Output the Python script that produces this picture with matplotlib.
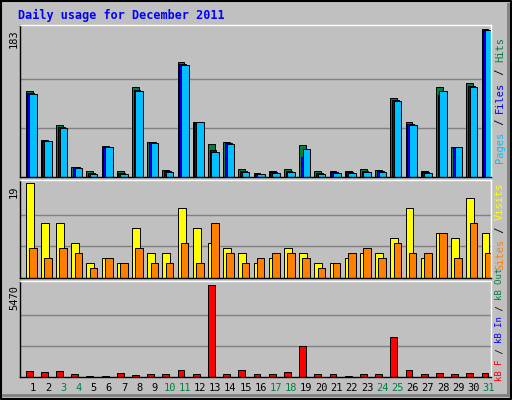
import numpy as np
import matplotlib.pyplot as plt

days = np.arange(1, 32)
hits = [107, 46, 65, 13, 7, 38, 7, 111, 44, 9, 142, 68, 41, 43, 10, 5, 7, 10, 40, 7, 7, 7, 10, 9, 98, 68, 8, 112, 37, 117, 183]
files = [104, 45, 62, 12, 5, 37, 5, 108, 43, 7, 140, 68, 34, 42, 7, 4, 6, 7, 25, 5, 6, 6, 7, 7, 95, 66, 6, 102, 37, 113, 182]
pages = [103, 45, 61, 11, 4, 37, 4, 107, 42, 6, 139, 68, 31, 41, 6, 4, 5, 6, 35, 4, 5, 5, 6, 6, 94, 65, 5, 107, 37, 112, 182]
visits = [19, 11, 11, 7, 3, 4, 3, 10, 5, 5, 14, 10, 7, 6, 5, 3, 4, 6, 5, 3, 3, 4, 5, 5, 8, 14, 4, 9, 8, 16, 9]
sites = [6, 4, 6, 5, 2, 4, 3, 6, 3, 3, 7, 3, 11, 5, 3, 4, 5, 5, 4, 2, 3, 5, 6, 4, 7, 5, 5, 9, 4, 11, 5]
kbytes = [380, 320, 380, 200, 80, 80, 260, 140, 200, 200, 440, 200, 5470, 200, 440, 200, 200, 320, 1817, 200, 200, 80, 200, 200, 2355, 440, 200, 260, 200, 260, 260]
weekend = [3, 4, 10, 11, 17, 18, 24, 25, 31]

W, H = 512, 400
fig = plt.figure(figsize=(W / 100, H / 100), dpi=100, facecolor='#c0c0c0')
plt.rcParams['font.family'] = 'DejaVu Sans Mono'

# outer frame
frame = fig.add_axes([0, 0, 1, 1])
frame.set_xlim(0, W); frame.set_ylim(H, 0); frame.axis('off')
frame.plot([1, W - 1, W - 1, 1, 1], [1, 1, H - 1, H - 1, 1], color='black', lw=1.5)
frame.plot([3, W - 4], [H - 5, H - 5], color='#808080', lw=2)
frame.plot([W - 4, W - 4], [4, H - 5], color='#808080', lw=2)
frame.text(18, 15, 'Daily usage for December 2011', color='#0000ff', fontsize=8.5,
           fontweight='bold', va='center')

def panel(top, bottom):
    ax = fig.add_axes([20 / W, 1 - bottom / H, 471 / W, (bottom - top) / H])
    ax.set_facecolor('#c0c0c0')
    ax.set_xlim(0.5, 31.5)
    ax.set_xticks([]); ax.set_yticks([])
    for s in ax.spines.values():
        s.set_color('black'); s.set_linewidth(1)
    ax.spines['top'].set_color('white'); ax.spines['right'].set_color('white')
    return ax

ax1 = panel(25, 177)
ax1.set_ylim(0, max(hits) * 1.03)
for f in (1 / 3, 2 / 3):
    ax1.axhline(max(hits) * f, color='#808080', lw=1, zorder=0)
ax1.bar(days - 0.125, hits, width=0.45, align='edge', color='#008040', edgecolor='black', lw=0.7)
ax1.bar(days - 0.02, files, width=0.45, align='edge', color='#0000ff', edgecolor='black', lw=0.7)
ax1.bar(days + 0.1, pages, width=0.5, align='edge', color='#00c0ff', edgecolor='black', lw=0.7)

ax2 = panel(180, 278)
ax2.set_ylim(0, max(visits) * 1.03)
for f in (1 / 3, 2 / 3):
    ax2.axhline(max(visits) * f, color='#808080', lw=1, zorder=0)
ax2.bar(days - 0.125, visits, width=0.52, align='edge', color='#ffff00', edgecolor='black', lw=0.7)
ax2.bar(days + 0.09, sites, width=0.5, align='edge', color='#ff8000', edgecolor='black', lw=0.7)

ax3 = panel(281, 377)
ax3.set_ylim(0, max(kbytes) * 1.04)
for f in (1 / 3, 2 / 3):
    ax3.axhline(max(kbytes) * f, color='#808080', lw=1, zorder=0)
ax3.bar(days - 0.125, kbytes, width=0.45, align='edge', color='#ff0000', edgecolor='black', lw=0.7)

# day labels
for d in days:
    x = 20 + (d + 0.35 - 0.5) * 471 / 31
    frame.text(x, 388, str(d), ha='center', va='center', fontsize=7.5,
               color='#008040' if d in weekend else 'black')

# max labels
for y, t in ((29, '183'), (185, '19'), (285, '5470')):
    frame.text(14, y, t, rotation=90, ha='center', va='top', fontsize=7.5)

def side(ycenter, parts, size):
    total = sum(len(p[0]) for p in parts)
    cw = 0.602 * size * 100 / 72
    y = ycenter + total * cw / 2
    for txt, col in parts:
        frame.text(500, y, txt, rotation=90, ha='center', va='bottom', fontsize=size, color=col)
        y -= len(txt) * cw

side(100, [('Pages', '#00c0ff'), (' / ', 'black'), ('Files', '#0000ff'), (' / ', 'black'), ('Hits', '#008040')], 7.5)
side(226, [('Sites', '#ff8000'), (' / ', 'black'), ('Visits', '#ffff00')], 7.5)
side(324, [('kB F', '#ff0000'), (' / ', 'black'), ('kB In', '#0000ff'), (' / ', 'black'), ('kB Out', '#008040')], 6.5)

fig.savefig('out.png', dpi=100, facecolor=fig.get_facecolor())
